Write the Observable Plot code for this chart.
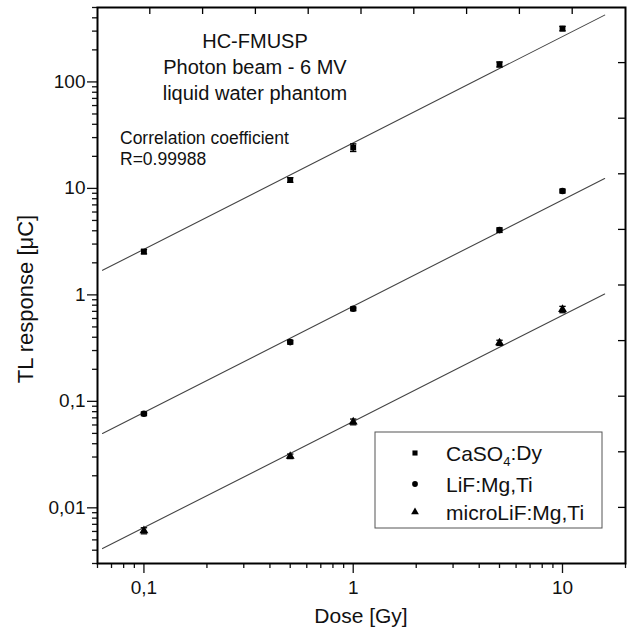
<!DOCTYPE html>
<html><head><meta charset="utf-8">
<script src="https://cdn.jsdelivr.net/npm/d3@7"></script>
<script src="https://cdn.jsdelivr.net/npm/@observablehq/plot@0.6"></script>
<style>
body{margin:0;background:#fff}
#chart{position:relative;width:633px;height:637px}
</style>
</head><body><div id="chart"></div>
<script>
// ---- data ----
const doses = [0.1, 0.5, 1, 5, 10];
const seriesNames = ["CaSO4:Dy", "LiF:Mg,Ti", "microLiF:Mg,Ti"];
const seriesSymbols = ["square", "circle", "triangle"];
const caso4 = [2.55, 12.0, 24.2, 146, 317];
const caso4Err = [0.12, 0.6, 2.0, 8, 15];
const lif = [0.0764, 0.36, 0.74, 4.06, 9.45];
const lifErr = [0.003, 0.015, 0.03, 0.2, 0.4];
const microlif = [0.0061, 0.0305, 0.0642, 0.355, 0.73];
const microlifErr = [0.0004, 0.0015, 0.004, 0.02, 0.05];
// fitted lines (end points)
const fitDose = [0.0634, 15.9];
const caso4Fit = [1.70, 424];
const lifFit = [0.0499, 12.4];
const microlifFit = [0.00414, 1.02];
// axes
const xDomain = [0.06, 20];
const yDomain = [0.003, 500];
const xMajor = [0.1, 1, 10];
const xMajorLabels = ["0,1", "1", "10"];
const xMinor = [0.06, 0.07, 0.08, 0.09, 0.2, 0.3, 0.4, 0.5, 0.6, 0.7, 0.8, 0.9, 2, 3, 4, 5, 6, 7, 8, 9, 20];
const yMajor = [0.01, 0.1, 1, 10, 100];
const yMajorLabels = ["0,01", "0,1", "1", "10", "100"];
const yMinor = [0.003,0.004,0.005,0.006,0.007,0.008,0.009,0.02,0.03,0.04,0.05,0.06,0.07,0.08,0.09,0.2,0.3,0.4,0.5,0.6,0.7,0.8,0.9,2,3,4,5,6,7,8,9,20,30,40,50,60,70,80,90,200,300,400,500];
const xLabel = "Dose [Gy]";
const yLabel = "TL response [\u03BCC]";
const noteTitle = ["HC-FMUSP", "Photon beam - 6 MV", "liquid water phantom"];
const noteCorr = ["Correlation coefficient", "R=0.99988"];
const frameDivisions = 10;

// ---- tables ----
const values = [caso4, lif, microlif];
const errs = [caso4Err, lifErr, microlifErr];
const fits = [caso4Fit, lifFit, microlifFit];
const points = [];
seriesNames.forEach((s, k) => doses.forEach((d, i) => points.push({series: s, dose: d, value: values[k][i], err: errs[k][i]})));
const fitRows = [];
seriesNames.forEach((s, k) => fitDose.forEach((d, i) => fitRows.push({series: s, dose: d, value: fits[k][i]})));

const capSymbol = {draw(ctx, size) { const w = Math.sqrt(size) * 0.6; ctx.moveTo(-w, 0); ctx.lineTo(w, 0); }};
const FONT = "'Liberation Sans', Arial, sans-serif";
const symbolFns = {square: d3.symbolSquare, circle: d3.symbolCircle, triangle: d3.symbolTriangle};

function decor(index, scales, vals, dims) {
  const {width, height, marginLeft: L, marginRight: R, marginTop: T, marginBottom: B} = dims;
  const x0 = L, x1 = width - R, y0 = T, y1 = height - B;
  const g = d3.create("svg:g").attr("text-anchor", "start").attr("font-family", FONT).attr("fill", "#111");
  const tg = g.append("g").attr("stroke", "#000").attr("stroke-width", 1.3);
  for (let i = 1; i < frameDivisions; i++) {
    const x = x0 + (x1 - x0) * i / frameDivisions;
    tg.append("line").attr("x1", x).attr("x2", x).attr("y1", y0).attr("y2", y0 + 7);
    const y = y0 + (y1 - y0) * i / frameDivisions;
    tg.append("line").attr("y1", y).attr("y2", y).attr("x1", x1).attr("x2", x1 - 7);
  }
  // axis titles
  g.append("text").attr("transform", `translate(25,299) rotate(-90)`).attr("text-anchor", "middle")
    .attr("dominant-baseline", "central").attr("font-size", 22).text(yLabel);
  g.append("text").attr("x", (x0 + x1) / 2).attr("y", 623).attr("text-anchor", "middle")
    .attr("font-size", 21).text(xLabel);
  // notes
  noteTitle.forEach((t, i) => g.append("text").attr("x", 255).attr("y", 48 + 26 * i).attr("text-anchor", "middle")
    .attr("font-size", 20).text(t));
  noteCorr.forEach((t, i) => g.append("text").attr("x", 120).attr("y", 144 + 21 * i).attr("text-anchor", "start")
    .attr("font-size", 17.5).text(t));
  // legend
  const lg = g.append("g");
  lg.append("rect").attr("x", 375).attr("y", 432).attr("width", 227).attr("height", 96)
    .attr("fill", "#fff").attr("stroke", "#555").attr("stroke-width", 1);
  const rowsY = [453, 484, 512];
  seriesNames.forEach((s, k) => {
    const sym = d3.symbol(symbolFns[seriesSymbols[k]], 26)();
    lg.append("path").attr("d", sym).attr("transform", `translate(415,${rowsY[k]})`).attr("fill", "#000").attr("stroke", "none");
    const t = lg.append("text").attr("x", 446).attr("y", rowsY[k]).attr("dy", "0.36em").attr("text-anchor", "start")
      .attr("font-size", 21);
    const m = s.match(/^(CaSO)(4)(.*)$/);
    if (m) {
      t.append("tspan").text(m[1]);
      t.append("tspan").attr("font-size", 13).attr("dy", "0.45em").text(m[2]);
      t.append("tspan").attr("dy", "-0.3em").text(m[3]);
    } else t.text(s);
  });
  return g.node();
}

const chart = Plot.plot({
  width: 633, height: 637,
  marginLeft: 97, marginRight: 8, marginTop: 7, marginBottom: 74,
  style: {fontFamily: FONT, fontSize: "18px", color: "#111", background: "#fff"},
  x: {type: "log", domain: xDomain, label: null},
  y: {type: "log", domain: yDomain, label: null},
  symbol: {domain: seriesNames, range: seriesSymbols},
  marks: [
    Plot.axisX({ticks: xMinor, tickSize: 5, text: null, label: null, strokeWidth: 1.3}),
    Plot.axisX({ticks: xMajor, tickSize: 10, tickPadding: 7, label: null, strokeWidth: 1.3,
      tickFormat: d => xMajorLabels[xMajor.indexOf(d)], fontSize: 19}),
    Plot.axisY({ticks: yMinor, tickSize: 5, text: null, label: null, strokeWidth: 1.3}),
    Plot.axisY({ticks: yMajor, tickSize: 10, tickPadding: 2, label: null, strokeWidth: 1.3,
      tickFormat: d => yMajorLabels[yMajor.indexOf(d)], fontSize: 19}),
    Plot.line(fitRows, {x: "dose", y: "value", z: "series", stroke: "#444", strokeWidth: 1.1}),
    Plot.ruleX(points, {x: "dose", y1: d => d.value - d.err, y2: d => d.value + d.err, stroke: "#000", strokeWidth: 1.5}),
    Plot.dot(points, {x: "dose", y: d => d.value - d.err, symbol: () => capSymbol, r: 3, stroke: "#000", strokeWidth: 1.3}),
    Plot.dot(points, {x: "dose", y: d => d.value + d.err, symbol: () => capSymbol, r: 3, stroke: "#000", strokeWidth: 1.3}),
    Plot.dot(points, {x: "dose", y: "value", symbol: "series", r: 3.3, fill: "#000", stroke: "none"}),
    Plot.frame({stroke: "#000", strokeWidth: 2}),
    decor
  ]
});
document.getElementById("chart").appendChild(chart);
</script>
</body></html>
